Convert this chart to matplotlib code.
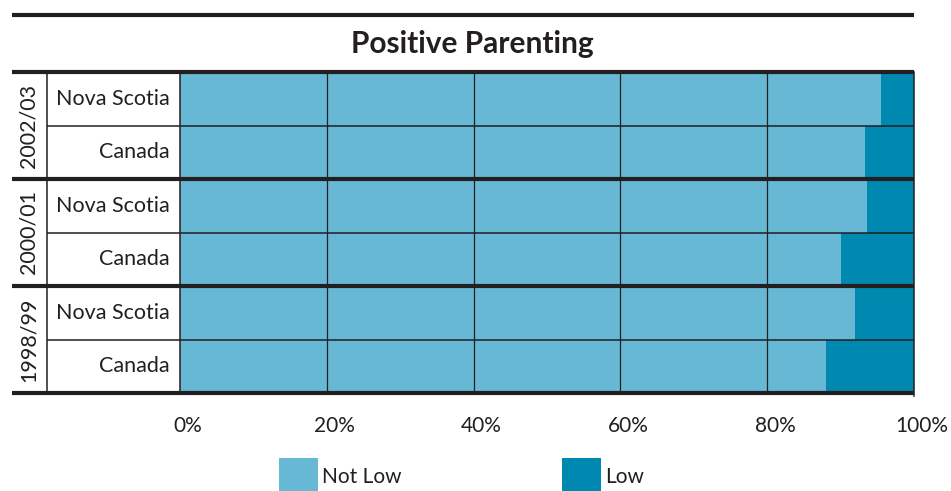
import matplotlib.pyplot as plt
from matplotlib.patches import Rectangle
from matplotlib.lines import Line2D

# Positive parenting scores, share of children by category (%)
years = ['2002/03', '2000/01', '1998/99']
regions = ['Nova Scotia', 'Canada']
not_low = [95.5, 93.3, 93.6, 90.1, 92.0, 88.0]
low = [4.5, 6.7, 6.4, 9.9, 8.0, 12.0]
ticks = [0, 20, 40, 60, 80, 100]

c_notlow = '#66b8d4'
c_low = '#0089b0'
ink = '#231f20'

plt.rcParams['font.family'] = ['Lato', 'DejaVu Sans']

W, H = 951, 491
fig = plt.figure(figsize=(W / 100, H / 100), dpi=100)


def fx(px):
    return px / W


def fy(py):
    return 1 - py / H


# plot area in pixels
x0, x1, y0, y1 = 180, 914, 72, 393
ax = fig.add_axes([fx(x0), fy(y1), fx(x1 - x0), (y1 - y0) / H])
n = len(not_low)
ypos = [i + 0.5 for i in range(n)]
ax.barh(ypos, not_low, height=1, color=c_notlow, zorder=1)
ax.barh(ypos, low, left=not_low, height=1, color=c_low, zorder=1)
ax.set_xlim(0, 100)
ax.set_ylim(n, 0)
for t in ticks[1:-1]:
    ax.axvline(t, color=ink, lw=0.9, zorder=2)
for s in ax.spines.values():
    s.set_visible(False)
ax.set_xticks([])
ax.set_yticks([])

# table rules
lx_thick = (12 - x0) / (x1 - x0)
lx_thin = (47 - x0) / (x1 - x0)
tr = ax.get_yaxis_transform()
for i in range(n + 1):
    if i % 2 == 0:
        ax.plot([lx_thick, 1.0], [i, i], transform=tr, color=ink, lw=3,
                clip_on=False, zorder=4, solid_capstyle='butt')
    else:
        ax.plot([lx_thin, 1.0], [i, i], transform=tr, color=ink, lw=1.1,
                clip_on=False, zorder=3, solid_capstyle='butt')
ax.plot([lx_thin, lx_thin], [0, n], transform=tr, color=ink, lw=1.1,
        clip_on=False, zorder=3)
ax.plot([0, 0], [0, n], transform=tr, color=ink, lw=1.1,
        clip_on=False, zorder=3)
ax.plot([1, 1], [0, n + 0.06], transform=tr, color=ink, lw=1.1,
        clip_on=False, zorder=3)

# row and group labels
lab_x = (170 - x0) / (x1 - x0)
yr_x = (29 - x0) / (x1 - x0)
for i, y in enumerate(ypos):
    ax.text(lab_x, y, regions[i % 2], transform=tr, ha='right', va='center',
            fontsize=15.5, color=ink)
for g, yr in enumerate(years):
    ax.text(yr_x, 2 * g + 1, yr, transform=tr, ha='center', va='center',
            rotation=90, fontsize=15.5, color=ink)

# percentage labels under the bars
for t in ticks:
    ax.text(t + 1.1, n + 0.62, f'{t}%', ha='center', va='center',
            fontsize=15, color=ink, clip_on=False)

# top rule and title
fig.add_artist(Line2D([fx(12), fx(914)], [fy(15), fy(15)], color=ink, lw=3,
                      solid_capstyle='butt'))
fig.text(fx(472), fy(44), 'Positive Parenting', ha='center', va='center',
         fontsize=21.5, fontweight='bold', color=ink)

# legend
for px, lab, col in [(279, 'Not Low', c_notlow), (562, 'Low', c_low)]:
    fig.add_artist(Rectangle((fx(px), fy(491)), fx(39), 33 / H,
                             color=col, lw=0))
    fig.text(fx(px + 43), fy(477), lab, ha='left', va='center',
             fontsize=15, color=ink)

fig.savefig('out.png', dpi=100)
